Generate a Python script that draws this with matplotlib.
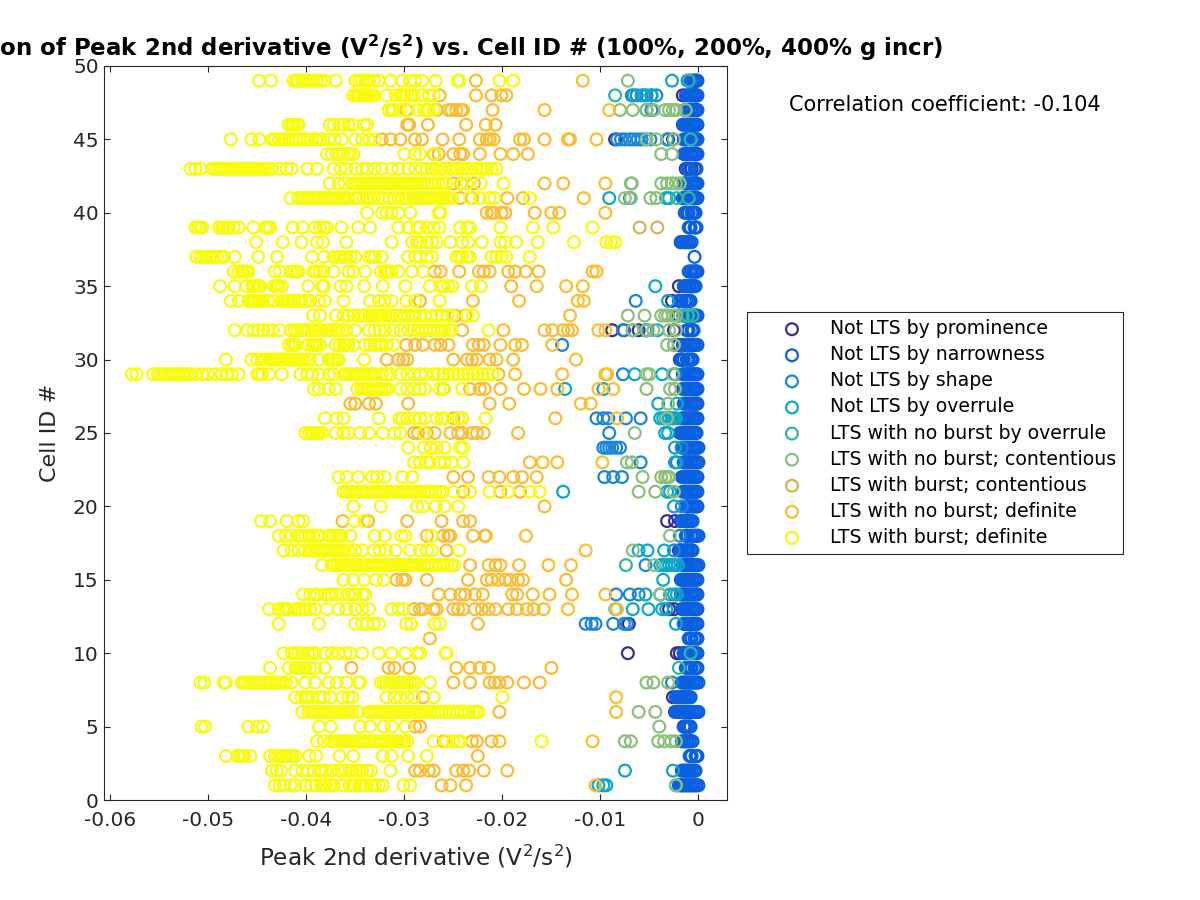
import matplotlib
matplotlib.use("Agg")
import matplotlib.pyplot as plt

labels = ["Not LTS by prominence", "Not LTS by narrowness", "Not LTS by shape", "Not LTS by overrule",
          "LTS with no burst by overrule", "LTS with no burst; contentious", "LTS with burst; contentious",
          "LTS with no burst; definite", "LTS with burst; definite"]
colors = ["#3b2c96", "#0a60e0", "#1a86d8", "#0ca8c8", "#2fb8a0", "#8cc07a", "#d4b45a", "#fdbd33", "#f9fb0e"]

# Values in units of 1e-3 V^2/s^2, keyed by Cell ID
prominence = {48: [-1.6], 45: [-8.5, -3.1, -2.6], 43: [-1.3, -0.7], 38: [-1.8], 35: [-2], 34: [-2.7, -1.9], 33: [-2],
              32: [-8.8, -7.6, -6.1, -5.4, -2.5], 31: [-2], 30: [-1.9, -1.7], 26: [-3.1], 22: [-1.5, -0.9],
              19: [-3.2, -2.4, -1.8], 17: [-2, -1.2], 13: [-3, -2.5], 12: [-7.1], 10: [-7.2, -2.2, -1.9, -1.5],
              7: [-2.6], 5: [-1.5, -0.9]}
narrowness = {
    49: [-1.1, -.9, -.7, -.5, -.4, -.3, -.2, -.1], 48: [-1.3, -1.1, -.9, -.8, -.7, -.5, -.4, -.3, -.2, -.1], 47: [-1.4, -1.2, -1, -.8, -.7, -.6, -.4, -.3, -.2, -.1],
    46: [-1.6, -1.4, -1.2, -1.1, -.9, -.8, -.6, -.5, -.4, -.2, -.1], 45: [-1.5, -1.3, -1.2, -1, -.8, -.7, -.5, -.4, -.3, -.2, -.1], 44: [-1.5, -1.3, -1.2, -1, -.8, -.7, -.5, -.4, -.3, -.2, -.1],
    43: [-1.2, -1, -.9, -.4, -.3, -.2], 42: [-1.5, -1.3, -1.2, -1, -.8, -.7, -.5, -.4, -.3, -.2, -.1], 41: [-1.6, -1.4, -1.2, -1.1, -.9, -.8, -.6, -.5, -.4, -.2, -.1],
    40: [-1.4, -1.2, -1.1, -1, -.7, -.6, -.5, -.4, -.3], 39: [-1, -.9, -.8, -.4, -.3, -.2], 38: [-1.8, -1.6, -1.5, -1.3, -1.2, -1, -.9, -.7], 37: [-.4],
    36: [-1, -.8, -.7, -.5, -.4, -.3, -.2, -.1], 35: [-1.5, -1.3, -1.2, -1, -.9, -.7, -.6, -.5, -.3], 34: [-2, -1.8, -1.7, -1.4, -1.2, -1, -.9, -.8], 33: [-1.5, -1.3, -1.2, -.9, -.8, -.6, -.4, -.3, -.1],
    32: [-1.2, -1.1, -1, -.7, -.6, -.5], 31: [-1.6, -1.4, -1.2, -1.1, -.9, -.8, -.6, -.5, -.4, -.2, -.1], 30: [-1.8, -1.6, -1.5, -1.2, -1.1, -1, -.8, -.7, -.6],
    29: [-1.6, -1.4, -1.2, -1.1, -.9, -.8, -.6, -.5, -.4, -.2, -.1], 28: [-1.6, -1.4, -1.2, -1.1, -.9, -.8, -.6, -.5, -.4, -.2, -.1], 27: [-1.5, -1.3, -1.2, -1, -.8, -.7, -.5, -.4, -.3, -.2, -.1],
    26: [-1.7, -1.5, -1.4, -1.2, -1.1, -.9, -.8, -.6, -.5, -.4, -.2, -.1], 25: [-1.9, -1.7, -1.6, -1.4, -1.3, -1.2, -1, -.9, -.7, -.6, -.4, -.3, -.2], 24: [-1.7, -1.5, -1.4, -1.2, -1.1, -.9, -.8, -.6, -.5, -.3, -.2, 0],
    23: [-1.5, -1.4, -1.2, -1.1, -1, -.8, -.7, -.5, -.4, -.2, -.1, 0], 22: [-1.7, -1.5, -1.4, -1.2, -1.1, -.9, -.8, -.6, -.5, -.3, -.2, -.1], 21: [-1.6, -1.4, -1.3, -1.1, -1, -.8, -.7, -.6, -.4, -.3, -.1],
    20: [-1.3, -1.2, -1.1, -.9, -.8, -.6, -.5, -.3, -.2, -.1], 19: [-1.7, -1.5, -1.4, -1.2, -1.1, -.9, -.8, -.6], 18: [-1.3, -1.2, -1.1, -.8, -.7, -.5, -.4, -.3, -.1, 0],
    17: [-1.9, -1.7, -1.6, -1.4, -1.3, -1.1, -1, -.8, -.7, -.6], 16: [-1.6, -1.4, -1.3, -1.1, -1, -.8, -.6, -.5, -.3, -.2, 0], 15: [-1.8, -1.6, -1.5, -1.3, -1.2, -1, -.9, -.7, -.6, -.4, -.3, -.1],
    14: [-1.8, -1.6, -1.5, -1.3, -1.2, -1, -.8, -.7, -.5, -.4, -.2, -.1], 13: [-1.7, -1.5, -1.4, -1.2, -1.1, -.9, -.8, -.6, -.5, -.3, -.2, -.1], 12: [-1.5, -1.4, -1.2, -1.1, -1, -.8, -.7, -.5, -.4, -.2, -.1],
    11: [-1, -.8, -.7, -.4, -.2, -.1], 10: [-1.5, -1.3, -1.2, -1, -.9, -.7, -.6, -.4, -.3, -.1], 9: [-1.3, -1.1, -1, -.8, -.7, -.4, -.2, -.1], 8: [-1.7, -1.5, -1.4, -1.2, -1.1, -.9, -.8, -.6, -.5, -.3, -.2, 0],
    7: [-2.3, -2.1, -2, -1.8, -1.7, -1.5, -1.4, -1.2, -1.1, -.9, -.8], 6: [-2.4, -2.2, -2.1, -1.9, -1.8, -1.6, -1.5, -1.3, -1.2, -1, -.9, -.7, -.6, -.4, -.3, -.1, 0], 5: [-1.5, -1.3, -1.2, -1, -.9, -.8],
    4: [-1.7, -1.5, -1.4, -1.2, -1.1, -.9, -.8, -.6], 3: [-.9, -.8, -.7, -.3, -.2, -.1], 2: [-1.7, -1.5, -1.3, -1.2, -1, -.9, -.7, -.5, -.4, -.3],
    1: [-2, -1.8, -1.7, -1.5, -1.4, -1.2, -1.1, -.9, -.8, -.6, -.5, -.3, -.2, 0]}
shape = {48: [-6.8, -6.3, -5.8, -5.3, -4.8, -4.3], 47: [-5.3, -4.8],
         45: [-8.3, -7.9, -7.5, -7, -6.6, -6.2, -5.8, -5.4, -4.9], 41: [-7], 34: [-6.4], 32: [-7.7, -6.7, -5.2],
         31: [-13.9, -2.5], 29: [-7.7, -2.4], 26: [-10.4, -9.7, -9.2, -7.4, -5.9], 25: [-9.1],
         24: [-9.7, -9.4, -9.1, -8.8, -8.4, -8, -1.7], 23: [-5.9, -2.2], 22: [-9.6, -8.7, -7.8], 20: [-1.7], 18: [-1.9],
         17: [-2.5], 16: [-5.4], 14: [-8.4, -7, -6.1], 12: [-11.5, -10.9, -10.5, -8.7, -7.6, -7.3], 8: [-2.7]}
overrule = {49: [-2.7], 48: [-6.6, -5.6, -4.8], 45: [-3.2], 41: [-9.1, -3.3, -3], 35: [-4.4], 34: [-3.1], 32: [-5.3, -4.2],
            29: [-6.5, -3.7], 28: [-13.6, -9.7], 27: [-4.1, -2.2], 26: [-3.9, -3.6, -3.3, -3, -2.7, -2.5, -2.3], 25: [-3.4, -3.1],
            24: [-2.4], 23: [-2.4], 21: [-13.8, -3.2, -2.9], 20: [-2.5], 17: [-6.1, -5.2, -3.5],
            16: [-3.9, -3.6, -3.3, -3, -2.7, -2.4, -2.1], 15: [-3.6], 14: [-5.4, -3.9, -2.9, -2.5, -2.2], 13: [-6.7, -5.1, -3.7, -3.3],
            12: [-2.3], 2: [-7.5, -2.6], 1: [-10.2, -9.7, -9.4, -2.3]}
noburst_overrule = {49: [-1], 48: [-8.5], 45: [-0.8], 41: [-2.2, -1], 33: [-1.6, -1.1, -.6], 16: [-7.4], 10: [-.8], 9: [-2]}
contentious = {49: [-7.2], 47: [-8, -6.7, -5.3, -4.6, -3.4, -3, -2.6, -2.3, -1.3], 45: [-5.3, -4.3, -2.5], 44: [-3.8, -2.7],
               42: [-6.9, -6.8, -3.8, -3.2, -2.7, -2.3, -1.9], 41: [-7.5, -6.9, -4.9, -4.3],
               33: [-7.2, -5.5, -3.8, -3.4, -3.1, -2.6, -2.3], 32: [-6.7, -5.3, -4.6, -3, -2.3], 31: [-3.2, -2.5],
               29: [-5.3, -5, -2.6], 28: [-5.3, -2.9, -2.4], 27: [-3.1], 26: [-3.2], 25: [-6.5], 23: [-7.3, -6.8],
               22: [-5.7, -3.8, -3.4, -3.1, -3], 21: [-6.1, -4.4, -2.5], 18: [-2.9], 17: [-6.7], 16: [-4.5], 14: [-3.9], 13: [-8.5],
               8: [-5.3, -4.6, -3.1], 6: [-6.1, -4.4], 5: [-4], 4: [-7.5, -6.9, -4.1, -3.5, -2.8, -2.3], 1: [-2.3]}
burst_contentious = {39: [-6, -4.2]}
noburst_def = {
    49: [-22.7, -11.8], 48: [-26.4, -22.7, -21.1, -20.1, -19.6], 47: [-31.1, -29.8, -26.7, -25.5, -25.2, -24.7, -24.2, -24, -21, -15.7, -9.1],
    46: [-29.7, -29.5, -27.6, -23.7, -21.7, -20.7],
    45: [-32.3, -31.4, -30.4, -28.9, -28.2, -26.1, -24.4, -22.3, -21.6, -21.3, -20.9, -18.2, -17.8, -15.7, -13.3, -13.1, -10.4],
    44: [-27, -26.5, -25, -24.3, -24, -22.3, -20.2, -18.9, -17.4], 42: [-25, -24.2, -22.9, -15.7, -13.8, -9.5],
    41: [-24.3, -23.1, -19.5, -17.9, -11.7], 40: [-21.6, -21.1, -20.9, -20.1, -19.7, -16.7, -15, -14.2, -9.5],
    36: [-26.9, -26.3, -24.4, -22.4, -21.9, -21.3, -19.4, -18.7, -17.6, -16.3, -10.8, -10.4],
    35: [-19.1, -16.5, -13.5, -11.8], 34: [-28.4, -23, -18.3, -12.3, -11.7], 33: [-24.8, -23.8, -13.1],
    32: [-24.1, -19.9, -15.7, -14.9, -13.8, -13.3, -12.9, -10.2, -9.5],
    31: [-29.8, -28.9, -28.1, -26.9, -26.3, -25.5, -23, -22.4, -21.9, -20.2, -18.7, -18, -14.9],
    30: [-31.8, -30.6, -30.1, -29.7, -25, -23.6, -23.1, -22.6, -21.3, -20.6, -18.9, -12.5],
    29: [-20.4, -18.7, -13.9, -9.5, -9.3], 28: [-26, -23.3, -22.3, -21.8, -20.2, -17.8, -16.1, -14.4, -10.2, -8.7],
    27: [-35.5, -35, -33.6, -32.9, -29.6, -21.3, -19.3, -12, -11], 26: [-25, -24.5, -24.1, -14.6, -8.3],
    25: [-29, -28.6, -27.7, -26.9, -25.3, -24.5, -24.1, -23.1, -22.6, -21.9, -18.4], 24: [-27.3], 23: [-17.2, -15.9, -14.4, -9.8],
    22: [-25, -23.5, -21.4, -20.3, -18.9, -18, -16.5], 21: [-24, -20.2, -18.2], 20: [-15.7],
    19: [-36.3, -33.7, -29.7, -26.2, -24, -23.3], 18: [-27.7, -26, -25.5, -25.3, -23, -21.8, -21.7, -17.6],
    17: [-25.7, -11.5], 16: [-23.3, -21.4, -20.7, -20.2, -18.3, -15.3, -13], 15: [-30.8, -30.2, -29.9, -27.7, -23.5, -21.6, -21.1, -20.4, -19.7, -19.2, -18.4, -17.9, -13.5],
    14: [-26.5, -25.3, -24.3, -23.8, -22.8, -22, -19, -18.5, -16.9, -15.2, -12.9, -9.5],
    13: [-29, -28.4, -28.1, -27, -26.7, -25, -24.5, -24, -22.8, -22.1, -21.4, -20.7, -19.4, -18.5, -17.5, -16.8, -15.8, -13.3, -8.3],
    12: [-22.5], 11: [-27.4], 9: [-35.4, -31.6, -31, -29.5, -24.7, -23.3, -22.3, -21.4, -15], 8: [-25, -23.3, -21.3, -20.8, -20.3, -19.5, -17.8, -16.2],
    7: [-28.1, -8.4], 6: [-20.3, -8.4], 5: [-28.9, -28.4], 4: [-26, -23.1, -22.6, -21.1, -20.3, -10.8],
    3: [-22.5], 2: [-28.9, -28.4, -27.5, -27, -24.7, -24, -23.4, -21.9, -19.5], 1: [-26.2, -25.3, -23.7, -10.5]}
burst_def = {
    49: [-44.8, -43.6, -41.3, -41, -40.8, -40.4, -40.1, -39.9, -39.6, -39.3, -38.9, -38.5, -38.1, -37, -35, -34.6, -34.3, -33.9, -33.6, -33.1, -32.6, -31.4, -30.2, -29.4, -28.9, -28.2, -26.8, -24.6, -24.4, -20.3, -18.9],
    48: [-35.2, -34.9, -34.7, -34.5, -34.2, -34, -33.8, -33.6, -33.3, -33.1, -31.8, -30.9, -30.4, -30.2, -30, -29.7, -29.3, -29, -28.2, -27.5, -27],
    47: [-31.6, -31.3, -31.1, -30.4, -29.6, -28.6, -28, -27.7, -27.5, -27],
    46: [-41.8, -41.5, -41.3, -41, -40.8, -37.6, -37.2, -36.6, -36.2, -35.7, -35.3, -34.1, -33.8],
    45: [-47.7, -45.6, -44.8, -43.5, -43.2, -42.8, -42.5, -42.2, -41.8, -41.4, -41, -40.7, -40.3, -39.9, -39.5, -39, -38.6, -38.3, -37.7, -37.1, -36.4, -35, -34.3, -33.6, -33],
    44: [-37.9, -37.4, -36.9, -36.6, -36.2, -35.8, -35.5, -35.2, -30, -28.9, -28.4, -26.9],
    43: [-51.8, -51.3, -50.8, -49.6, -49.3, -49, -48.7, -48.4, -48.1, -47.8, -47.5, -47.2, -46.9, -46.6, -46.3, -46, -45.7, -45.4, -45.1, -44.8, -44.5, -44.2, -43.9, -43.5, -42.7, -42, -41.5, -39.9, -38.9, -37.2, -36.5, -35.9, -35, -34.3, -33.8, -33, -32.3, -31.3, -30.6, -29.6, -28.9, -28.2, -27.7, -27.2, -26.8, -26.3, -25.9, -25.4, -25, -24.6, -24.1, -23.6, -23.2, -22.7, -22.2, -21.9, -21.5, -21.1, -20.6],
    42: [-37.6, -36.7, -36.1, -35.3, -35, -34.7, -34.4, -34.1, -33.8, -33.5, -33.2, -32.9, -32.6, -32.3, -32, -31.7, -31.4, -31.1, -30.8, -30.5, -30.2, -29.9, -29.6, -29.3, -29, -28.7, -28.4, -28, -27.6, -27.2, -26.9, -26.5, -26.1, -25.7, -24.1, -23.6, -22.2, -19.9],
    41: [-41.6, -40.8, -40.5, -40.2, -39.9, -39.6, -39.3, -39, -38.7, -38.4, -38.1, -37.8, -37.5, -37.2, -36.9, -36.6, -36.3, -36, -35.7, -35, -34.6, -34.2, -33.8, -33.5, -33.1, -32.7, -32.2, -31.5, -31, -30.6, -30.2, -29.8, -29.5, -29.1, -28.8, -28.4, -28.1, -27.8, -27.5, -27.2, -26.9, -26.6, -26.3, -26, -25.7, -25.4, -25.1, -23.3, -22.3, -21.3, -20.8, -17.2],
    40: [-33.8, -32.3, -31.8, -31.3, -30.6, -29.4, -26.5, -26.3],
    39: [-51.3, -51, -50.8, -50.6, -48.9, -48.6, -48.4, -48.1, -47.9, -47.4, -46.9, -45.4, -44.2, -44, -43.9, -43.7, -41.4, -40.4, -39.1, -38.6, -38.2, -37.9, -36.4, -34.7, -33.5, -30.6, -29.6, -28.7, -28.4, -27.7, -27, -26.4, -24.3, -23.6, -23.3, -20.2, -16.9, -14.8, -10.8],
    38: [-45.1, -42.4, -40.5, -38.9, -38.3, -35.9, -31.3, -29.2, -28.7, -28.4, -27.7, -27.2, -26.7, -25.3, -24.1, -23.5, -22.1, -20.2, -19.7, -18.6, -16.4, -12.7, -9.4, -8.9, -8.5],
    37: [-51.2, -50.8, -50.5, -50.2, -49.8, -49.5, -49.1, -48.7, -48.4, -47.3, -44.9, -43, -39.4, -38.2, -37.2, -36.8, -36.5, -36.2, -35.9, -35.5, -35, -33.6, -33.3, -33, -32.3, -29.6, -28.9, -28.4, -27.7, -27.2, -24.7, -24.4, -24.1, -23.6, -23.3, -21.1, -20.6, -20.1, -19.6, -17.2],
    36: [-47.4, -46.9, -46.6, -46.4, -46.1, -45.9, -43.2, -42.7, -41.6, -41.3, -41, -40.8, -39.3, -39, -38.6, -38.2, -37.2, -35.7, -35.2, -34, -32.4, -32, -31.8, -31.6, -31.3, -30.6, -29.2, -28.1],
    35: [-48.8, -47.3, -46.1, -45.5, -45.3, -45, -44.8, -44.7, -43.3, -43, -42.8, -42.5, -39.8, -38.4, -38.3, -38.2, -36.5, -35.9, -34.1, -32.2, -29.9, -27.4, -26.3, -26, -25.5, -25.1, -23.1, -22.2],
    34: [-47.7, -46.9, -45.9, -45.6, -45.4, -45.2, -44.9, -44.7, -44.4, -43.9, -43.3, -42.5, -42.3, -42, -41.8, -41.5, -41.2, -40.8, -40.5, -40.1, -39.6, -38.7, -38.1, -36.2, -33.5, -32.6, -32, -31.3, -29.8, -28.9, -26.4],
    33: [-39.3, -38.6, -37, -36.2, -35.7, -35.2, -34.7, -34.3, -34, -33.6, -33.3, -32.9, -32.6, -32.3, -32, -31.6, -31.3, -30.8, -30.4, -30, -29.6, -29.2, -28.9, -28.4, -27.9, -27.2, -26.7, -26.2, -25.6, -25.1, -23.6, -23],
    32: [-47.3, -46, -45.4, -44.9, -44.4, -43.9, -43.4, -42.7, -41.6, -41.2, -40.9, -40.5, -40.2, -39.8, -39.4, -39.1, -38.8, -38.4, -38, -37.7, -37.4, -37, -36.7, -36.3, -35.9, -35, -33.6, -33, -32.5, -32, -31.1, -30.4, -29.6, -29, -28.6, -28.2, -27.8, -27.4, -27, -26.6, -26.2, -25.9, -25.5, -25.2, -21.4],
    31: [-41.8, -41.5, -41.3, -41.1, -39.8, -39.4, -39.3, -39.1, -38.9, -38.6, -37, -36.6, -36.2, -36, -35.7, -35.2, -34, -33.5, -33, -32.6, -32.5, -32.3, -31.8, -31.1],
    30: [-48.2, -45.6, -45, -44.5, -44.2, -43.7, -43.5, -43.2, -43, -42.8, -42.5, -42.2, -42, -41.8, -41.5, -41.2, -41, -40.7, -40.4, -40.1, -39.6, -38.7, -37.7, -37.4, -37.2, -36.9, -36.7, -34.1],
    29: [-57.8, -57.3, -55.6, -55.1, -54.8, -54.5, -54.2, -53.9, -53.6, -53.3, -53, -52.7, -52.4, -52.1, -51.8, -51.3, -50.6, -50, -49.3, -48.6, -48.1, -47.6, -46.9, -45, -44.8, -44.5, -43.8, -42.5, -40.6, -39.9, -39.4, -38.7, -37.7, -37.2, -36.2, -35.9, -35.6, -35.3, -35, -34.7, -34.4, -34.1, -33.8, -33.5, -33.2, -33, -32.3, -31.8, -31.4, -30.4, -29.7, -29, -28.4, -27.8, -27, -26.5, -26, -25.5, -25, -24.5, -24, -23.5, -23, -22.5, -22, -21.5, -21],
    28: [-39.2, -38.7, -37.7, -37, -34.8, -34.4, -34.1, -33.8, -33.5, -33.2, -32.9, -32.6, -32.3, -32, -31.7, -30.4, -29.7, -29, -28.4, -27.9, -26.4, -25.9, -24.1],
    26: [-38.1, -36.9, -36.2, -32.6, -30.5, -30.2, -29.7, -28.9, -28.4, -27.9, -26.7, -26.2, -25.9, -24.5, -24.1, -21.7],
    25: [-40.1, -39.7, -39.4, -39.2, -38.9, -38.7, -38.4, -37, -36.2, -35.7, -34.5, -33.6, -32.2, -31, -30.4, -28],
    24: [-29.6, -28, -27.3, -26.7, -25.9, -24.3, -24],
    23: [-29, -28.4, -27.7, -27.4, -26.4, -25.9, -25.2, -24],
    22: [-36.7, -35.9, -34.7, -33.3, -32.8, -32, -30.2, -29.2],
    21: [-36.2, -35.9, -35.6, -35.3, -35, -34.7, -34.4, -34.1, -33.8, -33.5, -33.2, -32.9, -32.6, -32.3, -32, -31.7, -31.4, -31.1, -30.8, -30.5, -30.2, -29.9, -29.6, -29.3, -29, -28.7, -28.4, -28, -27.6, -27.2, -26.8, -26.4, -26.1, -25, -23.3, -21.3, -19.4, -17.2, -16.2],
    20: [-35.2, -32.4, -28.7, -28.1, -26.8, -25.9, -24.5],
    19: [-44.6, -43.7, -42, -40.8, -40.3, -35.1, -34.1],
    18: [-42.8, -42.1, -41.5, -40.8, -40.5, -40.1, -39.7, -39.3, -38.9, -38.6, -37.7, -37.3, -37, -36.7, -36.4, -35.5, -33, -32, -30.3, -29.9, -27.2],
    17: [-42.3, -41.5, -40.8, -40.1, -39.7, -39.4, -39.1, -38.8, -38.5, -38.2, -37.9, -37.6, -37.3, -37, -36.7, -36.4, -36.1, -35.7, -35, -34.3, -33.1, -32.5, -31.9, -30.9, -29.4, -28.4, -27.7, -27.2, -24.4],
    16: [-38.4, -37.4, -37.1, -36.8, -36.5, -36.2, -35.9, -35.6, -35.3, -35, -34.7, -34.4, -34.1, -33.8, -33.5, -33.2, -32.9, -32.6, -32.3, -32, -31.7, -31.4, -31.1, -30.8, -30.5, -30.2, -29.9, -29.6, -29.3, -29, -28.7, -28.4, -28, -27.6, -27.2, -26.8, -26.4, -26, -25.6, -25.2, -24.9],
    15: [-36.2, -35.2, -34.1, -32.9, -32.1],
    14: [-40.3, -39.6, -39.2, -38.9, -38.1, -37.7, -37.4, -37, -36.4, -35.7, -35.3, -35, -34.3, -34],
    13: [-43.8, -42.8, -42.4, -42.1, -41.9, -41.1, -40.7, -40.4, -40.1, -39.6, -39.1, -37.9, -36.7, -35.9, -35, -34.3, -33.6, -31.3, -30.6, -30.1],
    12: [-42.8, -38.7, -35, -34.3, -33.8, -33.1, -32.6, -29.8, -29.3, -26.9, -26.4],
    10: [-42.3, -41.5, -41.2, -40.8, -40.4, -39.8, -39.4, -39.1, -38.1, -37.4, -36.7, -36, -35.5, -34.3, -32.6, -31.3, -29.9, -28.7, -28.4, -25.8, -25.7],
    9: [-43.7, -41.8, -41.1, -40.9, -40.6, -40.3, -40.1, -39.6, -39.1, -38.1],
    8: [-50.8, -50.4, -48.4, -48.2, -46.6, -46.3, -46, -45.7, -45.4, -45.1, -44.8, -44.5, -44.2, -43.9, -43.6, -43.3, -43, -42.7, -42.4, -42.1, -41.5, -40.1, -39.1, -37.7, -36.9, -35.9, -34.7, -34.5, -32.4, -32.1, -31.8, -31.5, -31.2, -30.9, -30.6, -30.3, -30, -29.7, -29.4, -29.1, -28.8, -27.4],
    7: [-41.1, -40.5, -40.1, -39.8, -39.4, -38.7, -38.2, -37.5, -36.3, -35.7, -35.3, -31.8, -31, -30.4, -29.7, -29, -27, -20],
    6: [-40.4, -39.8, -39.5, -39.2, -38.9, -38.6, -38.3, -38, -37.7, -37.4, -37.1, -36.8, -36.5, -36.2, -35.9, -35.6, -35.3, -34.7, -33.7, -33.4, -33.1, -32.8, -32.5, -32.2, -31.9, -31.6, -31.3, -31, -30.7, -30.4, -30.1, -29.8, -29.5, -29.2, -28.9, -28.6, -28.3, -28, -27.7, -27.4, -27, -26.6, -26.2, -25.8, -25.4, -25, -24.6, -24.2, -23.8, -23.4, -23, -22.7, -22.4],
    5: [-50.7, -50.3, -45.9, -45, -44.4, -38.7, -37.5, -34.5, -33.5, -32.1, -31.3, -29.9],
    4: [-38.9, -38.2, -37.5, -37.2, -36.9, -36.6, -36.3, -36, -35.7, -35.4, -35.1, -34.8, -34.5, -34.2, -33.9, -33.6, -33.3, -33, -32.7, -32.4, -32.1, -31.8, -31.5, -31.2, -30.9, -30.6, -30.3, -30, -29.7, -27, -25.7, -25, -24.5, -24.3, -16],
    3: [-48.2, -47, -46.7, -46.5, -46.3, -45.7, -43.7, -43.2, -42.9, -42.6, -42.3, -42, -41.7, -41.4, -41.1, -39.7, -39, -36.6, -35.2, -32.2, -31.3, -29.6, -27.7],
    2: [-43.5, -43, -42.6, -41.1, -40.4, -39.8, -39.2, -38.7, -38.4, -38, -37.4, -36.7, -36.4, -36, -35.6, -35.3, -34.9, -34.6, -34.3, -33.8, -33.4, -31.4],
    1: [-43.2, -42.7, -42.3, -41.6, -41.1, -40.1, -39.5, -39, -38.5, -38.2, -38, -37.6, -37.2, -36.3, -35.6, -35.3, -35, -34.6, -34.3, -34, -33.3, -33, -32.6, -32.2, -30.1, -29.4]}

series = [prominence, narrowness, shape, overrule, noburst_overrule, contentious, burst_contentious, noburst_def, burst_def]
xtick_vals = [-0.06, -0.05, -0.04, -0.03, -0.02, -0.01, 0]
xtick_labels = ["-0.06", "-0.05", "-0.04", "-0.03", "-0.02", "-0.01", "0"]
ytick_vals = [0, 5, 10, 15, 20, 25, 30, 35, 40, 45, 50]

fig = plt.figure(figsize=(12, 9), dpi=100)
ax = fig.add_axes([104.3 / 1200, 1 - 800 / 900, 623 / 1200, 734 / 900])
for data, c, lab in zip(series, colors, labels):
    xs, ys = [], []
    for cell, vals in data.items():
        for v in vals:
            xs.append(v / 1000)
            ys.append(cell)
    ax.scatter(xs, ys, s=72, facecolors="none", edgecolors=c, linewidths=1.6, label=lab)

ax.set_xlim(-0.0606, 0.00294)
ax.set_ylim(0, 50)
ax.set_xticks(xtick_vals, xtick_labels)
ax.set_yticks(ytick_vals)
ax.tick_params(direction="in", top=True, right=True, length=4.5, width=0.8, labelsize=14.5, colors="#262626", pad=4)
ax.tick_params(axis="x", pad=8)
for s in ax.spines.values():
    s.set_color("#262626")
    s.set_linewidth(0.8)
ax.set_xlabel(r"Peak 2nd derivative (V$^2$/s$^2$)", fontsize=16.7, color="#262626", labelpad=9.5)
ax.set_ylabel("Cell ID #", fontsize=16, color="#262626", labelpad=9.5)
fig.text(415.5 / 1200, 1 - 56 / 900,
         r"Correlation of Peak 2nd derivative (V$\mathbf{^2}$/s$\mathbf{^2}$) vs. Cell ID # (100%, 200%, 400% g incr)",
         fontsize=16.5, fontweight="bold", ha="center", va="baseline", color="black")
fig.text(944.5 / 1200, 1 - 105 / 900, "Correlation coefficient: -0.104", fontsize=15, ha="center", va="center", color="black")
leg = ax.legend(loc="upper left", bbox_to_anchor=(747 / 1200, 1 - 312 / 900), bbox_transform=fig.transFigure,
                fontsize=13.6, frameon=True, fancybox=False, framealpha=1, edgecolor="#262626", borderaxespad=0,
                scatterpoints=1, labelspacing=0.375, borderpad=0.38, handletextpad=0.0, handlelength=4.0)
leg.get_frame().set_linewidth(0.8)
fig.savefig("out.png", dpi=100)
